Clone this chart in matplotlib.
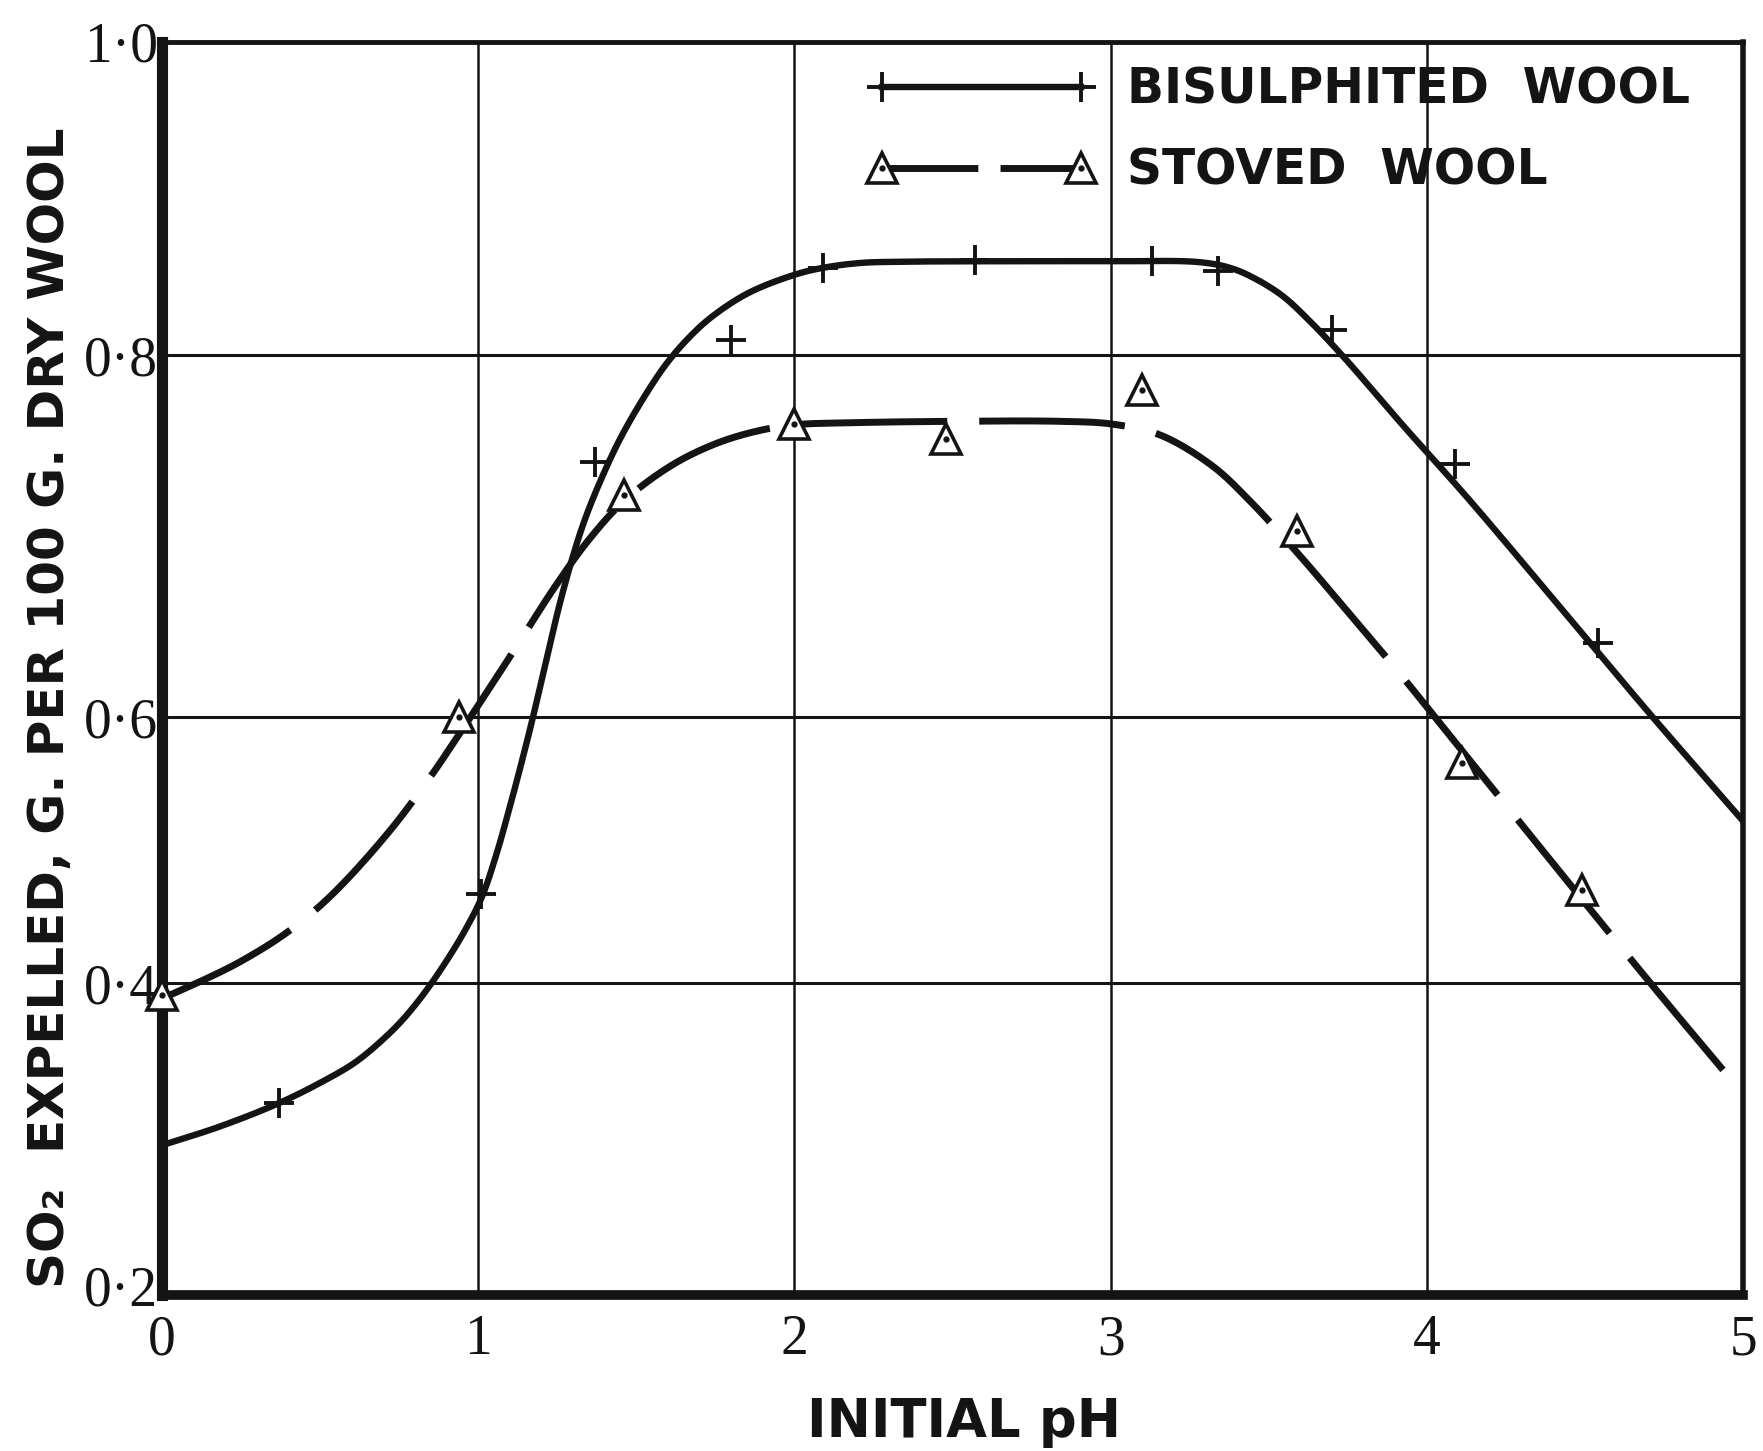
import numpy as np
import matplotlib
matplotlib.use("Agg")
import matplotlib.pyplot as plt
from matplotlib.lines import Line2D
from matplotlib.legend_handler import HandlerTuple
from matplotlib.transforms import ScaledTranslation

# ---- measured points -------------------------------------------------------
bis_ph = [0.37, 1.01, 1.37, 1.80, 2.09, 2.57, 3.13, 3.34, 3.70, 4.09, 4.54]
bis_so2 = [0.323, 0.467, 0.741, 0.810, 0.856, 0.861, 0.860, 0.854, 0.816, 0.740, 0.641]

sto_ph = [0.00, 0.94, 1.46, 2.00, 2.48, 3.10, 3.59, 4.11, 4.49]
sto_so2 = [0.392, 0.600, 0.723, 0.762, 0.754, 0.781, 0.703, 0.566, 0.470]

# ---- hand-drawn curves through the measurements ----------------------------
bis_curve_ph = [0.000, 0.183, 0.370, 0.500, 0.610, 0.705, 0.768, 0.835, 0.898,
                0.958, 1.012, 1.059, 1.097, 1.135, 1.173, 1.224, 1.259, 1.303,
                1.338, 1.385, 1.448, 1.531, 1.600, 1.670, 1.739, 1.853, 1.996,
                2.087, 2.207, 2.334, 2.600, 3.000, 3.283, 3.381, 3.460, 3.545,
                3.621, 3.732, 3.931, 4.135, 4.541, 4.715, 5.000]
bis_curve_so2 = [0.296, 0.308, 0.323, 0.336, 0.349, 0.365, 0.378, 0.395, 0.416,
                 0.4395, 0.465, 0.498, 0.530, 0.564, 0.600, 0.638, 0.6635, 0.691,
                 0.7096, 0.730, 0.7536, 0.7787, 0.7964, 0.812, 0.8246, 0.8396, 0.8511,
                 0.8557, 0.8589, 0.8597, 0.860, 0.860, 0.8594, 0.8556, 0.8486, 0.8377,
                 0.8236, 0.800, 0.760, 0.720, 0.636, 0.600, 0.522]

sto_curve_ph = [0.000, 0.120, 0.247, 0.395, 0.531, 0.715, 0.848, 0.939, 1.091,
                1.246, 1.354, 1.464, 1.607, 1.736, 1.860, 1.996, 2.176, 2.500,
                2.840, 3.004, 3.156, 3.321, 3.438, 3.590, 3.725, 3.906, 4.111,
                4.491, 4.711, 5.000]
sto_curve_so2 = [0.390, 0.401, 0.416, 0.438, 0.465, 0.513, 0.555, 0.587, 0.631,
                 0.673, 0.699, 0.720, 0.7387, 0.7501, 0.7572, 0.7615, 0.7627, 0.7635,
                 0.7635, 0.762, 0.756, 0.739, 0.720, 0.691, 0.6635, 0.626, 0.575,
                 0.463, 0.399, 0.329]

# ---- axes text ---------------------------------------------------------------
x_ticks = [0, 1, 2, 3, 4, 5]
x_tick_labels = ["0", "1", "2", "3", "4", "5"]
y_ticks = [0.2, 0.4, 0.6, 0.8, 1.0]
y_tick_labels = ["0·2", "0·4", "0·6", "0·8", "1·0"]
series_labels = ["BISULPHITED  WOOL", "STOVED  WOOL"]
x_title = "INITIAL pH"
y_title = "SO₂  EXPELLED, G. PER 100 G. DRY WOOL"

# The ruled lines of the sheet are not evenly spaced: the 0·6 line sits
# lower than an even division would put it.  Heights are given as a
# fraction of the axis height, one per y tick.
y_rule_frac = [0.0, 0.249, 0.461, 0.750, 1.0]


def _piecewise(v, xs, ys):
    v = np.asarray(v, dtype=float)
    out = np.interp(v, xs, ys)
    lo_slope = (ys[1] - ys[0]) / (xs[1] - xs[0])
    hi_slope = (ys[-1] - ys[-2]) / (xs[-1] - xs[-2])
    out = np.where(v < xs[0], ys[0] + (v - xs[0]) * lo_slope, out)
    out = np.where(v > xs[-1], ys[-1] + (v - xs[-1]) * hi_slope, out)
    return out


def y_forward(v):
    return _piecewise(v, y_ticks, y_rule_frac)


def y_inverse(p):
    return _piecewise(p, y_rule_frac, y_ticks)


def french_curve(px, py, ax_w, ax_h, n=24):
    """Draw a smooth pen line through the given curve points.

    The line is traced as a centripetal Catmull-Rom spline in the plotted
    (screen) space, so it bends the way a French curve would on the sheet.
    """
    P = np.column_stack([np.asarray(px, float) / 5.0 * ax_w,
                         y_forward(py) * ax_h])
    P = np.vstack([2 * P[0] - P[1], P, 2 * P[-1] - P[-2]])
    out = [P[1]]
    for i in range(len(P) - 3):
        p0, p1, p2, p3 = P[i], P[i + 1], P[i + 2], P[i + 3]
        t0 = 0.0
        t1 = t0 + np.linalg.norm(p1 - p0) ** 0.5
        t2 = t1 + np.linalg.norm(p2 - p1) ** 0.5
        t3 = t2 + np.linalg.norm(p3 - p2) ** 0.5
        t = np.linspace(t1, t2, n)[1:, None]
        a1 = (t1 - t) / (t1 - t0) * p0 + (t - t0) / (t1 - t0) * p1
        a2 = (t2 - t) / (t2 - t1) * p1 + (t - t1) / (t2 - t1) * p2
        a3 = (t3 - t) / (t3 - t2) * p2 + (t - t2) / (t3 - t2) * p3
        b1 = (t2 - t) / (t2 - t0) * a1 + (t - t0) / (t2 - t0) * a2
        b2 = (t3 - t) / (t3 - t1) * a2 + (t - t1) / (t3 - t1) * a3
        c = (t2 - t) / (t2 - t1) * b1 + (t - t1) / (t2 - t1) * b2
        out.extend(c)
    out = np.array(out)
    return out[:, 0] / ax_w * 5.0, y_inverse(out[:, 1] / ax_h)


ink = "#141414"
W, H = 1763, 1451
AX_L, AX_R, AX_T, AX_B = 162, 1743, 42, 1295

fig = plt.figure(figsize=(W / 100, H / 100), dpi=100)
fig.patch.set_facecolor("white")
ax = fig.add_axes([AX_L / W, 1 - AX_B / H, (AX_R - AX_L) / W, (AX_B - AX_T) / H])

ax.set_yscale("function", functions=(y_forward, y_inverse))
ax.set_xlim(0, 5)
ax.set_ylim(0.2, 1.0)
ax.set_xticks(x_ticks)
ax.set_xticklabels(x_tick_labels)
ax.set_yticks(y_ticks)
ax.set_yticklabels(y_tick_labels)
ax.minorticks_off()

for lab in ax.get_xticklabels() + ax.get_yticklabels():
    lab.set_fontfamily("Liberation Serif")
    lab.set_fontsize(40)
    lab.set_color(ink)
ax.tick_params(axis="x", length=0, pad=14)
ax.tick_params(axis="y", length=0, pad=3)

# lift the bottom y label a little so it clears the "0" of the pH scale
low_lab = ax.yaxis.get_major_ticks()[0].label1
low_lab.set_transform(low_lab.get_transform()
                      + ScaledTranslation(0, 7 / 72, fig.dpi_scale_trans))

# grid
for xv in x_ticks[1:-1]:
    ax.axvline(xv, color=ink, lw=1.8, zorder=1)
for yv in y_ticks[1:-1]:
    ax.axhline(yv, color=ink, lw=2.2, zorder=1)

# frame
ax.spines["left"].set_linewidth(8)
ax.spines["bottom"].set_linewidth(7)
ax.spines["top"].set_linewidth(3.5)
ax.spines["right"].set_linewidth(4)
for s in ax.spines.values():
    s.set_color(ink)
    s.set_zorder(6)

# curves
ax_w, ax_h = AX_R - AX_L, AX_B - AX_T
bx, by = french_curve(bis_curve_ph, bis_curve_so2, ax_w, ax_h)
sx, sy = french_curve(sto_curve_ph, sto_curve_so2, ax_w, ax_h)
ax.plot(bx, by, color=ink, lw=4.6, solid_joinstyle="round", zorder=3)
ax.plot(sx, sy, color=ink, lw=5, dashes=(21, 4.6), dash_capstyle="butt",
        zorder=3)

# measurement markers
ax.plot(bis_ph, bis_so2, ls="none", marker="+", ms=22, mew=2.8,
        color=ink, zorder=4)
ax.plot(sto_ph, sto_so2, ls="none", marker="^", ms=21, mfc="white",
        mec=ink, mew=2.6, zorder=7, clip_on=False)
ax.plot(sto_ph, sto_so2, ls="none", marker="o", ms=3.5, color=ink,
        zorder=8, clip_on=False)

# legend
bis_handle = Line2D([], [], color=ink, lw=4.6, marker="+", ms=22, mew=2.8)
sto_tri = Line2D([], [], color=ink, lw=5, dashes=(13.8, 3.2), marker="^",
                 ms=21, mfc="white", mec=ink, mew=2.6)
sto_dot = Line2D([], [], ls="none", marker="o", ms=3.5, color=ink)
leg = fig.legend([bis_handle, (sto_tri, sto_dot)], series_labels,
                 handler_map={tuple: HandlerTuple(ndivide=1, pad=0)},
                 loc="upper left", bbox_to_anchor=(867 / W, 1 - 66 / H),
                 bbox_transform=fig.transFigure, frameon=False,
                 numpoints=2, handlelength=4.7, handletextpad=0.64,
                 labelspacing=0.67, borderpad=0, borderaxespad=0,
                 prop=dict(family="DejaVu Sans", weight="bold", size=35))
for t in leg.get_texts():
    t.set_color(ink)

# axis titles
fig.text(964 / W, 1 - 1437 / H, x_title, ha="center", va="baseline",
         fontsize=38, fontweight="bold", family="DejaVu Sans", color=ink)
fig.text(50 / W, 1 - 708 / H, y_title, ha="center", va="center",
         rotation=90, fontsize=36, fontweight="bold", family="DejaVu Sans",
         color=ink)

fig.savefig("out.png", dpi=100, facecolor="white")
